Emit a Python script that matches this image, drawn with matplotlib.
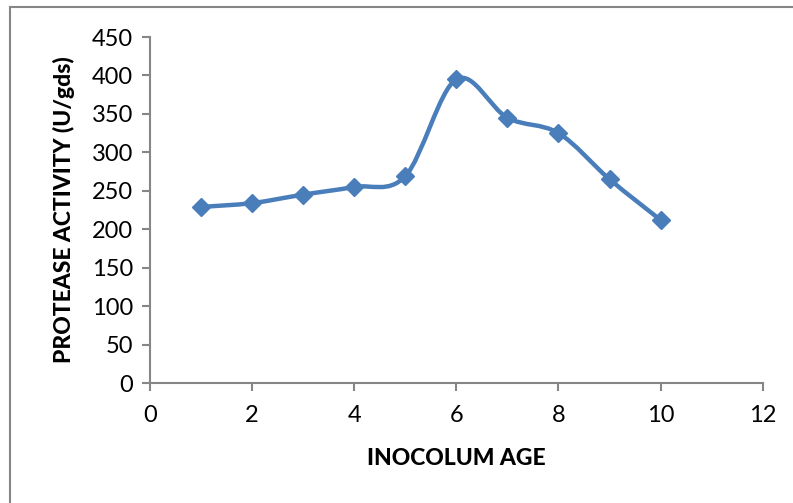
import numpy as np
import matplotlib
matplotlib.use('Agg')
import matplotlib.pyplot as plt
from matplotlib.path import Path
from matplotlib.patches import PathPatch
from matplotlib.lines import Line2D

plt.rcParams['font.family'] = ['Lato', 'DejaVu Sans']

# 接种龄与蛋白酶活性
inoculum_age = [1, 2, 3, 4, 5, 6, 7, 8, 9, 10]
protease_activity = [229, 234, 245, 255, 269, 395, 345, 325, 265, 212]
x_ticks = [0, 2, 4, 6, 8, 10, 12]
y_ticks = [0, 50, 100, 150, 200, 250, 300, 350, 400, 450]

blue = '#4a7ebb'
grey = '#868686'

fig = plt.figure(figsize=(7.93, 5.03), dpi=100)
ax = fig.add_axes([150 / 793, 1 - 383 / 503, 612.7 / 793, 346 / 503])

# 外框(只有左边和上边)
fig.add_artist(Line2D([10 / 793, 10 / 793], [0, 1 - 7 / 503], transform=fig.transFigure,
                      color=grey, lw=1.5))
fig.add_artist(Line2D([10 / 793, 1], [1 - 7 / 503, 1 - 7 / 503], transform=fig.transFigure,
                      color=grey, lw=1.5))

# 平滑曲线, 类似Excel的贝塞尔平滑
px = np.array(inoculum_age, dtype=float)
py = np.array(protease_activity, dtype=float)
n = len(px)
verts = [(px[0], py[0])]
codes = [Path.MOVETO]
for i in range(n - 1):
    x0, y0 = (px[i - 1], py[i - 1]) if i > 0 else (px[i], py[i])
    x3, y3 = (px[i + 2], py[i + 2]) if i + 2 < n else (px[i + 1], py[i + 1])
    c1 = (px[i] + (px[i + 1] - x0) / 6, py[i] + (py[i + 1] - y0) / 6)
    c2 = (px[i + 1] - (x3 - px[i]) / 6, py[i + 1] - (y3 - py[i]) / 6)
    verts += [c1, c2, (px[i + 1], py[i + 1])]
    codes += [Path.CURVE4] * 3
ax.add_patch(PathPatch(Path(verts, codes), fill=False, edgecolor=blue, lw=3.2,
                       capstyle='round', joinstyle='round', zorder=2))
ax.plot(inoculum_age, protease_activity, linestyle='none', marker='D', markersize=9.5,
        color=blue, markeredgecolor=blue, zorder=3)

ax.set_xlim(0, 12)
ax.set_ylim(0, 450)
ax.set_xticks(x_ticks)
ax.set_yticks(y_ticks)

for s in ['top', 'right']:
    ax.spines[s].set_visible(False)
for s in ['left', 'bottom']:
    ax.spines[s].set_color(grey)
    ax.spines[s].set_linewidth(1.5)
ax.tick_params(direction='out', length=6, width=1.5, color=grey, labelsize=17,
               labelcolor='black')
ax.tick_params(axis='y', pad=6)
ax.tick_params(axis='x', pad=10)

ax.set_xlabel('INOCOLUM AGE', fontsize=16.5, fontweight='black', labelpad=16)
ax.set_ylabel('PROTEASE ACTIVITY (U/gds)', fontsize=16.5, fontweight='black', labelpad=12)

fig.savefig('out.png', dpi=100)
